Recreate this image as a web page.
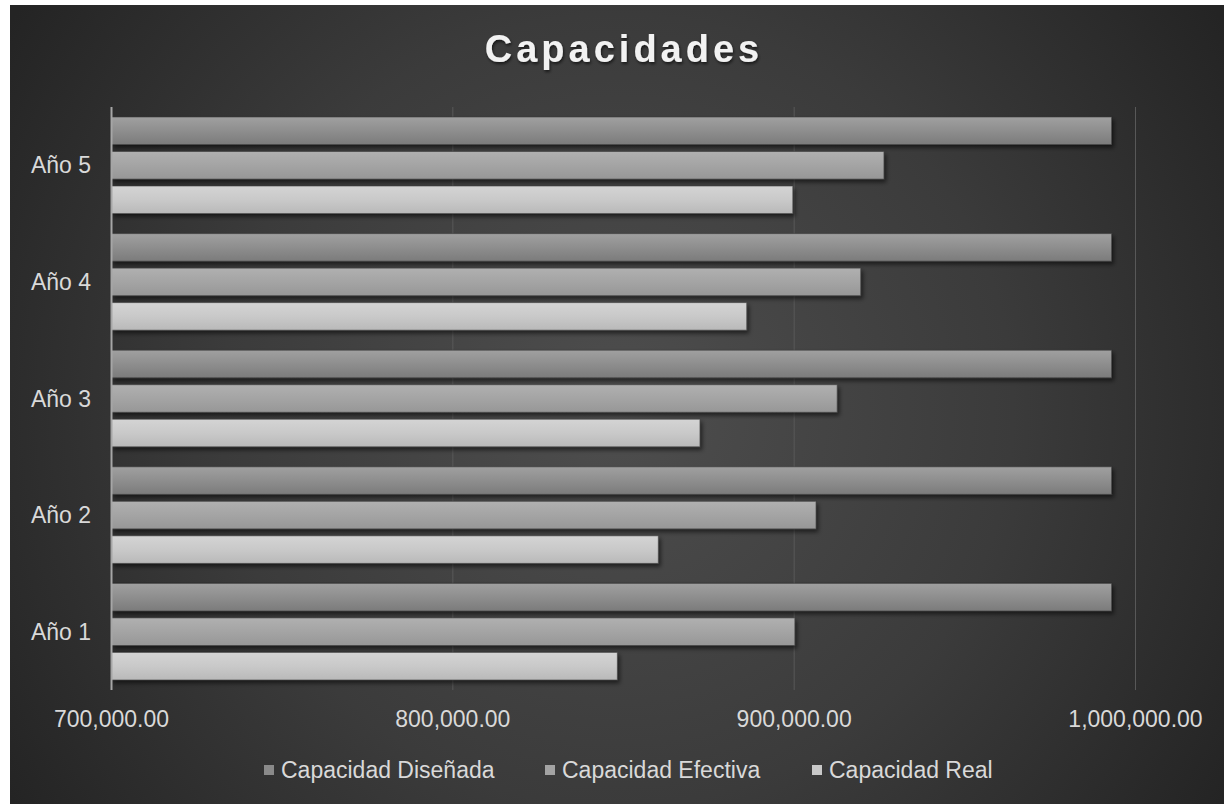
<!DOCTYPE html>
<html>
<head>
<meta charset="utf-8">
<script src="https://cdn.jsdelivr.net/npm/d3@7"></script>
<style>
	body { margin: 0; background: #ffffff; }
	svg { display: block; font-family: 'Liberation Sans', Arial, sans-serif; }
</style>
</head>
<body>
<div id="chart"></div>
<script>
var categories = ['Año 1', 'Año 2', 'Año 3', 'Año 4', 'Año 5'];
var seriesNames = ['Capacidad Diseñada', 'Capacidad Efectiva', 'Capacidad Real'];
var disenada = [993000, 993000, 993000, 993000, 993000];
var efectiva = [900200, 906400, 912600, 919500, 926300];
var real = [848200, 860200, 872400, 886100, 899600];
var xTicks = [700000, 800000, 900000, 1000000];

var width = 1224, height = 804;
var margin = { top: 107, right: 88.5, bottom: 114, left: 111.5 };

// colour stops per series, top to bottom of the bar
var barStops = [
	['#a0a0a0', '#8e8e8e', '#7b7b7b'],
	['#b0b0b0', '#a4a4a4', '#979797'],
	['#d4d4d4', '#c9c9c9', '#b9b9b9']
];
var legendFill = ['#8a8a8a', '#a3a3a3', '#c8c8c8'];

function run() {
	var svg = d3
		.select('#chart')
		.append('svg')
		.attr('width', width)
		.attr('height', height);

	var defs = svg.append('defs');

	var bg = defs
		.append('radialGradient')
		.attr('id', 'bg')
		.attr('gradientUnits', 'userSpaceOnUse')
		.attr('cx', 617)
		.attr('cy', 410)
		.attr('r', 720);
	bg.append('stop').attr('offset', '0').attr('stop-color', '#4e4e4e');
	bg.append('stop').attr('offset', '0.55').attr('stop-color', '#3b3b3b');
	bg.append('stop').attr('offset', '1').attr('stop-color', '#242424');

	barStops.forEach((s, i) => {
		var g = defs
			.append('linearGradient')
			.attr('id', 'bar' + i)
			.attr('x1', 0)
			.attr('y1', 0)
			.attr('x2', 0)
			.attr('y2', 1);
		g.append('stop').attr('offset', '0').attr('stop-color', s[0]);
		g.append('stop').attr('offset', '0.5').attr('stop-color', s[1]);
		g.append('stop').attr('offset', '1').attr('stop-color', s[2]);
	});

	var shadow = defs.append('filter').attr('id', 'shadow')
		.attr('x', '-5%').attr('y', '-30%').attr('width', '110%').attr('height', '170%');
	shadow.append('feDropShadow')
		.attr('dx', 2).attr('dy', 3).attr('stdDeviation', 2)
		.attr('flood-color', '#000').attr('flood-opacity', 0.55);

	var textShadow = defs.append('filter').attr('id', 'tshadow');
	textShadow.append('feDropShadow')
		.attr('dx', 1).attr('dy', 2).attr('stdDeviation', 1.5)
		.attr('flood-color', '#000').attr('flood-opacity', 0.6);

	svg.append('rect')
		.attr('x', 10)
		.attr('y', 5)
		.attr('width', width - 10)
		.attr('height', height - 5)
		.attr('fill', 'url(#bg)');

	var x = d3
		.scaleLinear()
		.domain([700000, 1000000])
		.range([margin.left, width - margin.right]);

	// Año 1 at the bottom
	var y = d3
		.scaleBand()
		.domain(categories.slice().reverse())
		.range([margin.top, height - margin.bottom]);

	var ySub = d3
		.scaleBand()
		.domain([0, 1, 2])
		.range([10, y.bandwidth() - 10])
		.paddingInner(0.2);

	// gridlines
	svg.append('g')
		.selectAll('line')
		.data(xTicks.slice(1))
		.enter()
		.append('line')
		.attr('x1', d => x(d))
		.attr('x2', d => x(d))
		.attr('y1', margin.top)
		.attr('y2', height - margin.bottom)
		.attr('stroke', '#585858')
		.attr('stroke-width', 1);

	var rows = categories.map((c, i) => ({
		cat: c,
		values: [disenada[i], efectiva[i], real[i]]
	}));

	var groups = svg
		.append('g')
		.selectAll('g')
		.data(rows)
		.enter()
		.append('g')
		.attr('transform', d => 'translate(0,' + y(d.cat) + ')');

	groups
		.selectAll('rect')
		.data(d => d.values.map((v, k) => ({ v: v, k: k })))
		.enter()
		.append('rect')
		.attr('x', x(700000))
		.attr('y', d => ySub(d.k))
		.attr('width', d => x(d.v) - x(700000))
		.attr('height', ySub.bandwidth())
		.attr('fill', d => 'url(#bar' + d.k + ')')
		.attr('stroke', 'rgba(60,60,60,0.6)')
		.attr('stroke-width', 1)
		.attr('filter', 'url(#shadow)');

	// value axis line at 700,000
	svg.append('line')
		.attr('x1', x(700000))
		.attr('x2', x(700000))
		.attr('y1', margin.top)
		.attr('y2', height - margin.bottom)
		.attr('stroke', '#a6a6a6')
		.attr('stroke-width', 2);

	// category labels
	svg.append('g')
		.selectAll('text')
		.data(categories)
		.enter()
		.append('text')
		.attr('x', 91)
		.attr('y', d => y(d) + y.bandwidth() / 2)
		.attr('dy', '0.35em')
		.attr('text-anchor', 'end')
		.attr('fill', '#d9d9d9')
		.style('font-size', '23px')
		.text(d => d);

	// value tick labels
	var fmt = d3.format(',.2f');
	svg.append('g')
		.selectAll('text')
		.data(xTicks)
		.enter()
		.append('text')
		.attr('x', d => x(d))
		.attr('y', 727)
		.attr('text-anchor', 'middle')
		.attr('fill', '#d9d9d9')
		.style('font-size', '23px')
		.text(d => fmt(d));

	// title
	svg.append('text')
		.attr('x', 624)
		.attr('y', 62)
		.attr('text-anchor', 'middle')
		.attr('fill', '#f2f2f2')
		.attr('filter', 'url(#tshadow)')
		.style('font-size', '38px')
		.style('font-weight', 'bold')
		.style('letter-spacing', '4px')
		.text('Capacidades');

	// legend
	var legendX = [264, 545, 812];
	var legend = svg
		.append('g')
		.selectAll('g')
		.data(seriesNames)
		.enter()
		.append('g')
		.attr('transform', (d, i) => 'translate(' + legendX[i] + ',770)');

	legend.append('rect')
		.attr('x', 0)
		.attr('y', -5)
		.attr('width', 10)
		.attr('height', 10)
		.attr('fill', (d, i) => legendFill[i]);

	legend.append('text')
		.attr('x', 17)
		.attr('y', 0)
		.attr('dy', '0.35em')
		.attr('fill', '#d9d9d9')
		.style('font-size', '23px')
		.text(d => d);
}

window.onload = run;
</script>
</body>
</html>
